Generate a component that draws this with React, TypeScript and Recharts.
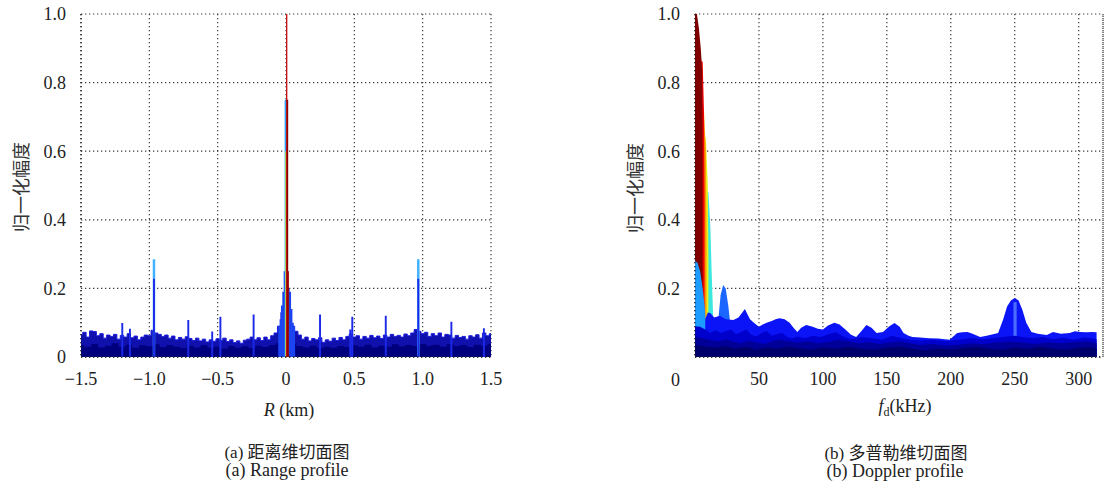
import { Area, CartesianGrid, ComposedChart, ReferenceLine, XAxis, YAxis } from "recharts"

// ---------- (a) range profile ----------
const rangeTicks = [-1.5, -1, -0.5, 0, 0.5, 1, 1.5]
const ampTicks = [0, 0.2, 0.4, 0.6, 0.8, 1]

// upper edge of the noise band, every 0.025 km from -1.5
const bandTopStart = -1.5
const bandTopStep = 0.025
const bandTop = [
  0.065, 0.072, 0.058, 0.076, 0.074, 0.062, 0.068, 0.055, 0.064, 0.06,
  0.066, 0.052, 0.063, 0.058, 0.068, 0.056, 0.061, 0.05, 0.058, 0.064,
  0.062, 0.078, 0.07, 0.066, 0.06, 0.064, 0.055, 0.061, 0.05, 0.057,
  0.052, 0.059, 0.054, 0.048, 0.055, 0.047, 0.052, 0.044, 0.05, 0.046,
  0.053, 0.049, 0.055, 0.045, 0.05, 0.042, 0.047, 0.04, 0.049, 0.052,
  0.058, 0.05, 0.056, 0.048, 0.058, 0.05, 0.062, 0.07, 0.09, 0.13,
  0.17, 0.13, 0.09, 0.075, 0.064, 0.052, 0.058, 0.047, 0.054, 0.05,
  0.056, 0.043, 0.05, 0.046, 0.055, 0.048, 0.057, 0.05, 0.06, 0.067,
  0.058, 0.062, 0.052, 0.06, 0.055, 0.063, 0.056, 0.061, 0.054, 0.064,
  0.058, 0.066, 0.06, 0.063, 0.058, 0.067, 0.062, 0.07, 0.08, 0.075,
  0.068, 0.072, 0.06, 0.068, 0.062, 0.07, 0.058, 0.066, 0.064, 0.055,
  0.063, 0.057, 0.06, 0.052, 0.062, 0.058, 0.065, 0.055, 0.07, 0.062,
  0.068,
]

// darker lower part of the band, every 0.05 km from -1.5
const bandLowStart = -1.5
const bandLowStep = 0.05
const bandLow = [
  0.035, 0.03, 0.038, 0.028, 0.033, 0.04, 0.03, 0.036, 0.027, 0.034,
  0.031, 0.037, 0.029, 0.035, 0.03, 0.026, 0.033, 0.028, 0.034, 0.027,
  0.03, 0.025, 0.032, 0.027, 0.031, 0.026, 0.033, 0.029, 0.035, 0.04,
  0.05,
  0.04, 0.032, 0.028, 0.033, 0.026, 0.03, 0.027, 0.032, 0.029, 0.034,
  0.03, 0.036, 0.028, 0.033, 0.03, 0.037, 0.031, 0.035, 0.032, 0.038,
  0.033, 0.036, 0.03, 0.037, 0.032, 0.035, 0.029, 0.036, 0.033, 0.038,
]

// [km, amplitude]
const rangeSpikes = [
  [-1.198, 0.099], [-1.142, 0.082], [-0.966, 0.228], [-0.715, 0.108],
  [-0.54, 0.074], [-0.48, 0.117], [-0.237, 0.124], [0.249, 0.124],
  [0.47, 0.08], [0.485, 0.117], [0.73, 0.12], [0.968, 0.228],
  [1.21, 0.103], [1.448, 0.084],
]
const rangeCluster = [
  [-0.05, 0.09], [-0.04, 0.11], [-0.03, 0.15], [-0.02, 0.19], [-0.01, 0.25],
  [0.01, 0.25], [0.02, 0.2], [0.03, 0.19], [0.04, 0.14], [0.05, 0.1], [0.06, 0.09],
]
const rangeSideTips = [[-0.966, 0.285], [0.968, 0.285]]
const rangeCenterPeaks = [[-0.005, 0.75], [0.0, 0.6], [0.005, 1.0], [0.011, 0.75], [0.016, 0.25]]
const centerColors = ["#2aa2ff", "#d6e61e", "#c81414", "#8a0000", "#a00000"]

// ---------- (b) doppler profile ----------
const dopplerTicks = [0, 50, 100, 150, 200, 250, 300]
const dopplerMax = 319

// [kHz, amplitude]
const lobeCyan = [[0, 0.5], [10.5, 0.48], [12, 0.38], [13, 0.25], [14, 0.14], [14.5, 0]]
const lobeYellow = [[0, 0.65], [8.5, 0.64], [10, 0.5], [10.5, 0.3], [10.5, 0]]
const lobeOrange = [[0, 0.73], [7, 0.72], [8.5, 0.6], [9, 0.35], [9, 0]]
const lobeRed = [[0, 0.88], [6, 0.86], [7, 0.72], [7.5, 0.45], [7.5, 0]]
const lobeDarkRed = [[0, 1], [1.5, 1], [3, 0.96], [4.5, 0.9], [5.5, 0.84], [6, 0.6], [6, 0]]
const lobeLightBlue = [[0, 0.28], [2, 0.275], [4, 0.25], [6, 0.2], [7.5, 0.15], [8.5, 0.1], [9, 0.09], [9, 0]]
const bump22 = [[17.5, 0], [18.5, 0.12], [20, 0.18], [22, 0.21], [24, 0.2], [26, 0.15], [27.5, 0.1], [28.5, 0]]
const dopplerBlue = [
  [8, 0], [8, 0.11], [10, 0.13], [12, 0.128], [15, 0.115], [19.5, 0.12], [24, 0.11], [30, 0.108],
  [34, 0.115], [37, 0.13], [39, 0.14], [41, 0.125], [43, 0.11], [46, 0.1], [50, 0.088], [53, 0.095],
  [56, 0.1], [60, 0.105], [63, 0.11], [66, 0.113], [70, 0.11], [74, 0.1], [77, 0.085], [80, 0.073],
  [83, 0.085], [87, 0.093], [92, 0.088], [96, 0.082], [100, 0.08], [104, 0.092], [109, 0.1], [113, 0.095],
  [118, 0.079], [122, 0.065], [126, 0.058], [130, 0.075], [134, 0.093], [138, 0.085], [142, 0.07],
  [147, 0.073], [152, 0.09], [156, 0.099], [160, 0.088], [163, 0.07], [167, 0.062], [170, 0.058],
  [176, 0.057], [183, 0.055], [190, 0.054], [199, 0.05], [205, 0.07], [209, 0.072], [213, 0.073],
  [217, 0.068], [223, 0.058], [228, 0.062], [233, 0.066], [237, 0.07], [241, 0.11], [244, 0.147],
  [247, 0.165], [250, 0.172], [253, 0.165], [256, 0.137], [259, 0.1], [263, 0.073], [268, 0.068],
  [275, 0.064], [280, 0.073], [286, 0.068], [293, 0.07], [297, 0.075], [301, 0.073], [306, 0.072],
  [310, 0.073], [314, 0.072], [314, 0],
]
const stripe250 = [[249, 0], [249, 0.16], [251.5, 0.16], [251.5, 0]]
const dopplerMid = [
  [0, 0], [0, 0.09], [4, 0.088], [8, 0.08], [12, 0.07], [16, 0.078], [20, 0.07], [24, 0.075], [28, 0.08],
  [32, 0.066], [36, 0.072], [40, 0.08], [44, 0.065], [48, 0.06], [52, 0.07], [56, 0.075], [60, 0.062],
  [64, 0.066], [68, 0.07], [72, 0.058], [76, 0.055], [80, 0.06], [86, 0.055], [92, 0.062], [98, 0.058],
  [104, 0.066], [110, 0.072], [116, 0.06], [122, 0.052], [130, 0.058], [138, 0.055], [146, 0.05],
  [154, 0.062], [160, 0.056], [168, 0.05], [176, 0.048], [186, 0.05], [196, 0.046], [206, 0.05],
  [216, 0.055], [226, 0.052], [236, 0.056], [244, 0.06], [250, 0.062], [256, 0.058], [264, 0.055],
  [272, 0.058], [280, 0.052], [288, 0.056], [296, 0.05], [304, 0.057], [310, 0.055], [314, 0.052], [314, 0],
]
const dopplerDark = [
  [0, 0], [0, 0.06], [6, 0.055], [12, 0.05], [18, 0.045], [24, 0.052], [30, 0.045], [36, 0.04], [42, 0.048],
  [48, 0.042], [54, 0.038], [60, 0.045], [66, 0.05], [72, 0.047], [80, 0.042], [88, 0.046], [96, 0.04],
  [104, 0.044], [112, 0.05], [120, 0.045], [128, 0.04], [136, 0.043], [144, 0.038], [152, 0.042],
  [160, 0.045], [168, 0.04], [176, 0.035], [186, 0.038], [196, 0.033], [206, 0.036], [216, 0.04],
  [226, 0.038], [236, 0.042], [246, 0.045], [256, 0.042], [266, 0.038], [276, 0.042], [286, 0.04],
  [296, 0.043], [306, 0.046], [314, 0.04], [314, 0],
]
const dopplerNavy = [
  [0, 0], [0, 0.035], [8, 0.03], [16, 0.028], [24, 0.032], [32, 0.025], [40, 0.03], [48, 0.022], [56, 0.028],
  [64, 0.024], [72, 0.03], [80, 0.026], [90, 0.022], [100, 0.028], [110, 0.025], [120, 0.03], [130, 0.024],
  [140, 0.022], [150, 0.027], [160, 0.03], [170, 0.024], [180, 0.02], [190, 0.025], [200, 0.022],
  [210, 0.026], [220, 0.03], [230, 0.025], [240, 0.022], [250, 0.028], [260, 0.024], [270, 0.03],
  [280, 0.025], [290, 0.022], [300, 0.027], [308, 0.03], [314, 0.025], [314, 0],
]

type Row = { x: number; [k: string]: number }

const gridRows = (vals: number[], start: number, step: number, key: string): Row[] =>
  vals.map((v, i) => ({ x: +(start + i * step).toFixed(4), [key]: v }))

const pairRows = (pts: number[][], key: string): Row[] => pts.map(([x, y]) => ({ x, [key]: y }))

const stemRows = (pts: number[][], half: number, key: string): Row[] =>
  pts.flatMap(([x, h]) => [
    { x: x - half, [key]: 0 },
    { x: x - half, [key]: h },
    { x: x + half, [key]: h },
    { x: x + half, [key]: 0 },
  ])

const rangeRows: Row[] = [
  ...gridRows(bandTop, bandTopStart, bandTopStep, "top"),
  ...gridRows(bandLow, bandLowStart, bandLowStep, "low"),
  ...stemRows(rangeSideTips, 0.009, "tips"),
  ...stemRows(rangeSpikes, 0.007, "spikes"),
  ...stemRows(rangeCluster, 0.007, "cluster"),
  ...rangeCenterPeaks.flatMap((p, i) => stemRows([p], 0.005, `peak${i}`)),
]

const dopplerLayers: [string, number[][], string][] = [
  ["cyan", lobeCyan, "#3ae8e0"],
  ["yellow", lobeYellow, "#e6f21e"],
  ["orange", lobeOrange, "#ff9800"],
  ["red", lobeRed, "#ee0000"],
  ["darkred", lobeDarkRed, "#800000"],
  ["lightblue", lobeLightBlue, "#1c9cff"],
  ["bump", bump22, "#1a66ff"],
  ["blue", dopplerBlue, "#0a14f6"],
  ["stripe", stripe250, "#4a6cff"],
  ["mid", dopplerMid, "#0000cc"],
  ["dark", dopplerDark, "#000098"],
  ["navy", dopplerNavy, "#00006c"],
]

const dopplerRows: Row[] = dopplerLayers.flatMap(([key, pts]) => pairRows(pts, key))

const serif = "Liberation Serif, DejaVu Serif, serif"
const cjk = "Liberation Serif, Noto Sans CJK SC, serif"
const gridStyle = { stroke: "#3a3a3a", strokeDasharray: "1.3 2.7", strokeWidth: 1.2 }
const axisDots = { stroke: "#222", strokeDasharray: "1.3 2.7", strokeWidth: 1.3 }

const fmtAmp = (v: number) => (v === 0 ? "0" : v.toFixed(1))
const fmtRange = (v: number) => (v === 0 ? "0" : `${v < 0 ? "\u2212" : ""}${Math.abs(v).toFixed(1)}`)
const fmtDoppler = (v: number) => (v === 0 ? "" : String(v))

// y ticks, right aligned; `drop` moves the 0 label down to the x tick row
const YTick = (props: any) => {
  const { x, y, payload, drop = 0 } = props
  const shift = payload.value === 0 ? drop : 0
  return (
    <text x={x} y={y + shift} dy="0.355em" textAnchor="end" fill="#222" style={{ fontFamily: serif, fontSize: 18 }}>
      {fmtAmp(payload.value)}
    </text>
  )
}

const XTick = (props: any) => {
  const { x, y, payload, fmt } = props
  return (
    <text x={x} y={y} dy="0.71em" textAnchor="middle" fill="#222" style={{ fontFamily: serif, fontSize: 18 }}>
      {fmt(payload.value)}
    </text>
  )
}

const fill = (key: string, color: string, type: "linear" | "step" = "linear", stroke = "none") => (
  <Area
    key={key}
    dataKey={key}
    type={type}
    fill={color}
    fillOpacity={1}
    stroke={stroke}
    strokeWidth={1}
    connectNulls
    dot={false}
    activeDot={false}
    isAnimationActive={false}
  />
)

const label = (left: number, top: number, extra: any = {}) => ({
  position: "absolute" as const,
  left,
  top,
  transform: "translate(-50%, -50%)",
  whiteSpace: "nowrap" as const,
  color: "#222",
  ...extra,
})

export default function App() {
  return (
    <div style={{ position: "absolute", left: 0, top: 0, width: 1104, height: 482, background: "#fff", fontFamily: serif }}>
      <div style={{ position: "absolute", left: 0, top: 0 }}>
        <ComposedChart width={520} height={400} data={rangeRows} margin={{ top: 14, right: 29, bottom: 3, left: 21 }}>
          <CartesianGrid {...gridStyle} />
          {fill("top", "#1010ac", "step", "#1c1ce0")}
          {fill("low", "#00007e", "step")}
          {fill("tips", "#40b2ff")}
          {fill("spikes", "#1c2ae8")}
          {fill("cluster", "#1c44f0")}
          {rangeCenterPeaks.map((_, i) => fill(`peak${i}`, centerColors[i]))}
          <XAxis
            dataKey="x"
            type="number"
            domain={[-1.5, 1.5]}
            ticks={rangeTicks}
            allowDataOverflow
            height={40}
            tickSize={0}
            tickMargin={15}
            tickLine={false}
            axisLine={axisDots}
            tick={<XTick fmt={fmtRange} />}
            interval={0}
          />
          <YAxis
            type="number"
            domain={[0, 1]}
            ticks={ampTicks}
            allowDataOverflow
            width={60}
            tickSize={0}
            tickMargin={15}
            tickLine={false}
            axisLine={axisDots}
            tick={<YTick />}
            interval={0}
          />
        </ComposedChart>
      </div>

      <div style={{ position: "absolute", left: 580, top: 0 }}>
        <ComposedChart width={524} height={400} data={dopplerRows} margin={{ top: 14, right: 1, bottom: 3, left: 55 }}>
          <CartesianGrid {...gridStyle} />
          {dopplerLayers.map(([key, , color]) => fill(key, color))}
          <ReferenceLine x={dopplerMax} {...gridStyle} />
          <XAxis
            dataKey="x"
            type="number"
            domain={[0, dopplerMax]}
            ticks={dopplerTicks}
            allowDataOverflow
            height={40}
            tickSize={0}
            tickMargin={15}
            tickLine={false}
            axisLine={axisDots}
            tick={<XTick fmt={fmtDoppler} />}
            interval={0}
          />
          <YAxis
            type="number"
            domain={[0, 1]}
            ticks={ampTicks}
            allowDataOverflow
            width={60}
            tickSize={0}
            tickMargin={15}
            tickLine={false}
            axisLine={axisDots}
            tick={<YTick drop={23} />}
            interval={0}
          />
        </ComposedChart>
      </div>

      <div style={label(20, 187, { transform: "translate(-50%, -50%) rotate(-90deg)", fontFamily: "Noto Sans CJK SC, sans-serif", fontSize: 18, color: "#333" })}>
        归一化幅度
      </div>
      <div style={label(634, 188, { transform: "translate(-50%, -50%) rotate(-90deg)", fontFamily: "Noto Sans CJK SC, sans-serif", fontSize: 18, color: "#333" })}>
        归一化幅度
      </div>

      <div style={label(289, 410, { fontSize: 18 })}>
        <i>R</i> (km)
      </div>
      <div style={label(905, 408, { fontSize: 18 })}>
        <i>f</i>
        <sub style={{ fontSize: 12 }}>d</sub>(kHz)
      </div>

      <div style={label(287, 450, { fontFamily: cjk, fontSize: 17 })}>(a) 距离维切面图</div>
      <div style={label(287, 470, { fontSize: 18 })}>(a) Range profile</div>
      <div style={label(896, 451, { fontFamily: cjk, fontSize: 17 })}>(b) 多普勒维切面图</div>
      <div style={label(895, 471, { fontSize: 18 })}>(b) Doppler profile</div>
    </div>
  )
}
